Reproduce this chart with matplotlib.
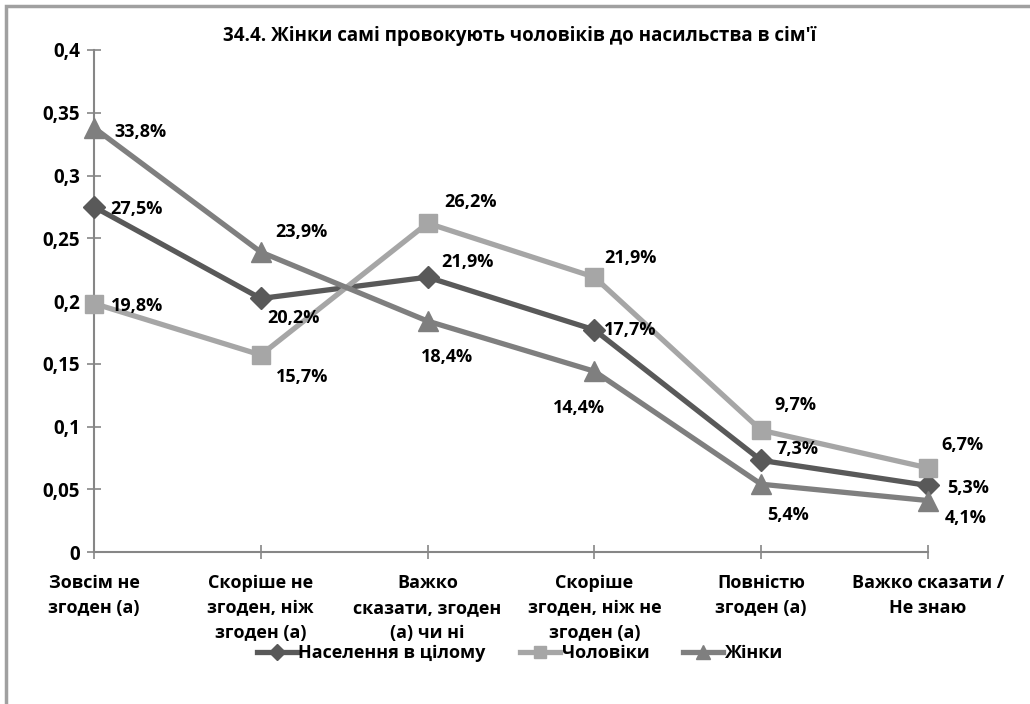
import matplotlib
matplotlib.use('Agg')
import matplotlib.pyplot as plt
import matplotlib.patches as mpatches

plt.rcParams['font.family'] = ['Open Sans', 'Noto Sans', 'DejaVu Sans']
plt.rcParams['font.weight'] = 'bold'

# ── дані ──
categories = ['Зовсім не\nзгоден (а)', 'Скоріше не\nзгоден, ніж\nзгоден (а)',
              'Важко\nсказати, згоден\n(а) чи ні', 'Скоріше\nзгоден, ніж не\nзгоден (а)',
              'Повністю\nзгоден (а)', 'Важко сказати /\nНе знаю']
naselennia = [0.275, 0.202, 0.219, 0.177, 0.073, 0.053]
choloviky = [0.198, 0.157, 0.262, 0.219, 0.097, 0.067]
zhinky = [0.338, 0.239, 0.184, 0.144, 0.054, 0.041]
y_ticks = [0, 0.05, 0.1, 0.15, 0.2, 0.25, 0.3, 0.35, 0.4]

# зсуви підписів (пікселі)
off_nas = [(42, -2), (33, -20), (40, 15), (36, 0), (36, 11), (40, -3)]
off_chol = [(43, -2), (41, -22), (43, 21), (36, 19), (34, 25), (34, 23)]
off_zh = [(46, -4), (41, 20), (19, -36), (-15, -37), (27, -31), (38, -17)]

series = [
    ('Населення в цілому', naselennia, '#595959', 'D', 11, off_nas),
    ('Чоловіки', choloviky, '#a6a6a6', 's', 12.5, off_chol),
    ('Жінки', zhinky, '#7f7f7f', '^', 14, off_zh),
]

fig = plt.figure(figsize=(10.3, 7.04), dpi=100)
ax = fig.add_axes([94/1030, 1-552/704, (928-94)/1030, (552-50)/704])

x = list(range(len(categories)))
for name, vals, col, mk, ms, offs in series:
    ax.plot(x, vals, color=col, lw=3.8, marker=mk, ms=ms, mfc=col, mec=col,
            label=name, zorder=3)
    for xi, v, (dx, dy) in zip(x, vals, offs):
        ax.annotate(f'{v*100:.1f}%'.replace('.', ','), (xi, v), xytext=(dx, dy),
                    textcoords='offset pixels', ha='center', va='center',
                    fontsize=13, fontweight='bold', color='black', zorder=5)

ax.set_xlim(0, len(categories) - 1)
ax.set_ylim(0, 0.4)
ax.set_yticks(y_ticks)
ax.set_yticklabels([('%g' % t).replace('.', ',') for t in y_ticks], fontsize=13.5)
ax.set_xticks(x)
ax.set_xticklabels(categories, fontsize=13, linespacing=1.5, va='top')
ax.tick_params(axis='both', color='#868686', width=1.2, length=10, direction='inout')
ax.tick_params(axis='x', pad=11)
ax.tick_params(axis='y', pad=5)
for s in ['top', 'right']:
    ax.spines[s].set_visible(False)
for s in ['left', 'bottom']:
    ax.spines[s].set_color('#868686')
    ax.spines[s].set_linewidth(1.5)
for ln in ax.lines:
    ln.set_clip_on(False)

fig.text(520/1030, 1-36/704, "34.4. Жінки самі провокують чоловіків до насильства в сім'ї",
         ha='center', va='center', fontsize=13.5, fontweight='bold')

leg = fig.legend(loc='center', bbox_to_anchor=(520/1030, 1-653/704), ncol=3, frameon=False,
                 fontsize=13, handlelength=2.2, columnspacing=1.9, handletextpad=0.1,
                 markerscale=0.7)

fig.patches.append(mpatches.Rectangle((6/1030, -0.05), 1.1, 1-6/704+0.05, transform=fig.transFigure,
                                      fill=False, edgecolor='#a0a0a0', lw=2.5))

fig.savefig('out.png', dpi=100)
